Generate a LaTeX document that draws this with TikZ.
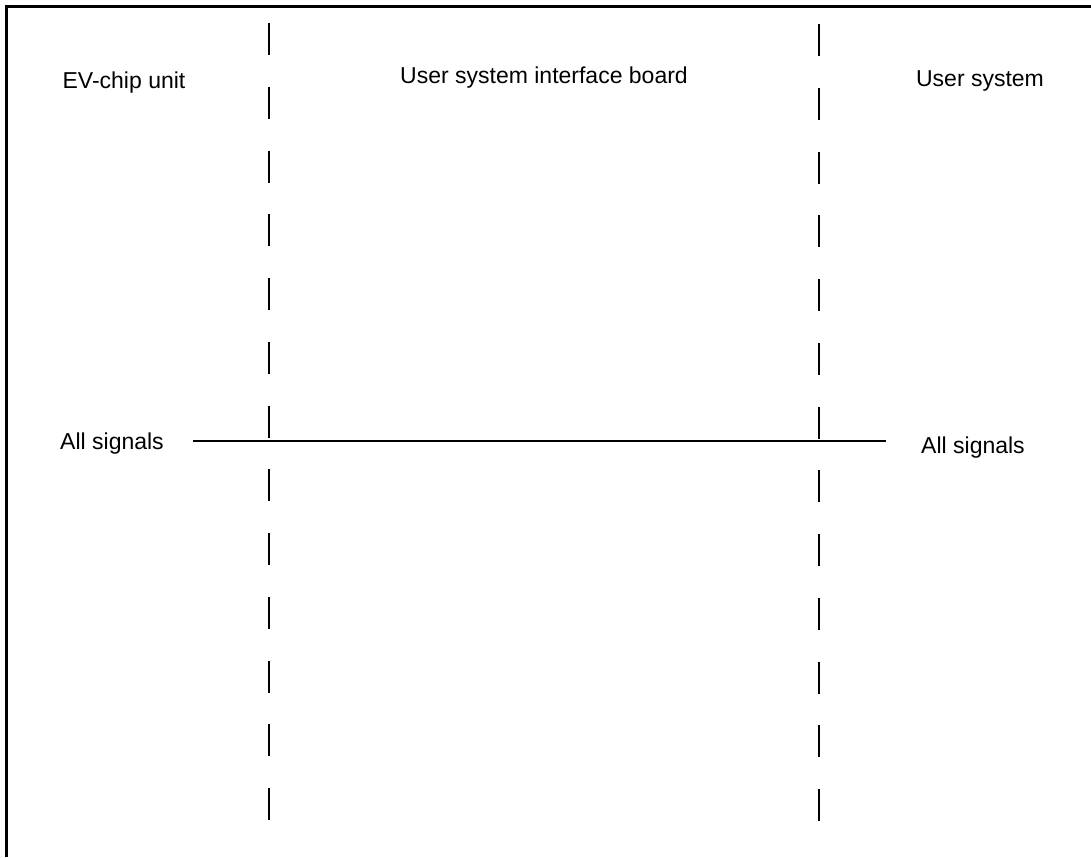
\documentclass[tikz,border=0pt]{standalone}
\usepackage{fontspec}
\setmainfont{Liberation Sans}
\usetikzlibrary{positioning}
\tikzset{
  lbl/.style={inner sep=0pt, anchor=base, font=\fontsize{23}{27}\selectfont},
  frm/.style={line width=3pt},
  divd/.style={line width=2pt, dash pattern=on 32pt off 31.75pt},
  sig/.style={line width=2pt},
}
\begin{document}
\begin{tikzpicture}[x=1pt, y=-1pt]
\useasboundingbox (0,0) rectangle (1091,857);

% frame (top and left edge only)
\coordinate (fbl) at (6,857);
\coordinate (ftl) at (6,6);
\coordinate (ftr) at (1091,6);
\draw[frm] (fbl) -- (ftl) -- (ftr);

% column titles
\node[lbl] (evchip) at (124,88) {EV-chip unit};
\node[lbl] (usib) at (544,83) {User system interface board};
\node[lbl] (usys) at (980,86) {User system};

% boundaries
\coordinate (ltop) at (268.5,23);
\coordinate (lbot) at (268.5,821);
\coordinate (rtop) at (818.5,24);
\coordinate (rbot) at (818.5,822);
\draw[divd] (ltop) -- (lbot);
\draw[divd] (rtop) -- (rbot);

% signal line
\node[lbl] (sigl) at (112,449) {All signals};
\node[lbl] (sigr) at (973,453) {All signals};
\coordinate (sa) at (193,441);
\coordinate (sb) at (886,441);
\draw[sig] (sa) -- (sb);

\end{tikzpicture}
\end{document}
